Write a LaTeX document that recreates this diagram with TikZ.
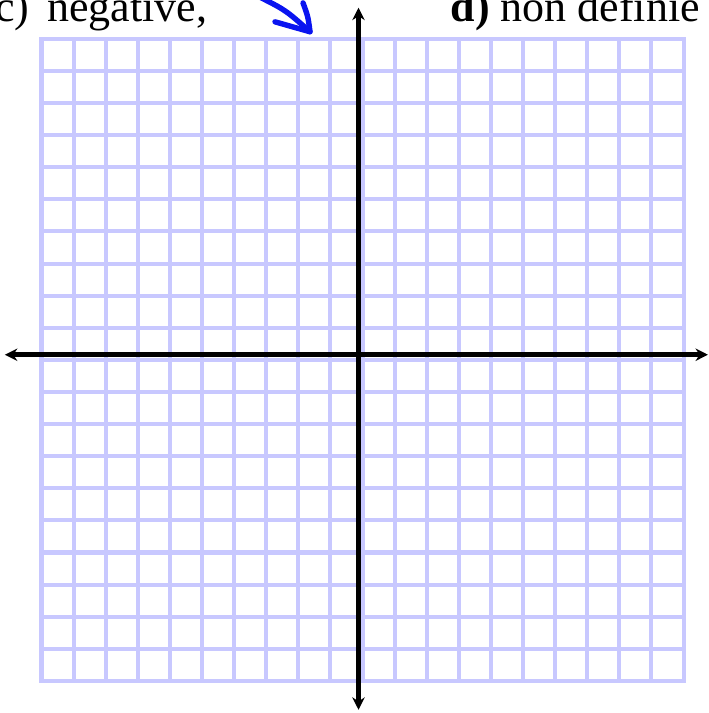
\documentclass[tikz,border=0pt]{standalone}
\usepackage{fontspec}
\setmainfont{Liberation Serif}
\definecolor{gridblue}{HTML}{C8C8FF}
\definecolor{penblue}{HTML}{0A14F0}
\usetikzlibrary{arrows.meta}

\begin{document}
\begin{tikzpicture}[x=0.5cm, y=0.5cm,
		gridline/.style={draw=gridblue, line width=1.8pt},
		axis/.style={{Stealth[length=5.5pt,width=5.5pt]}-{Stealth[length=5.5pt,width=5.5pt]}, line width=2pt, black},
		pen/.style={draw=penblue, line width=2.4pt, line cap=round, line join=round},
		lbl/.style={anchor=base west, inner sep=0pt, font=\fontsize{19.5}{23}\selectfont}
	]
	\clip (-1.293,-1.0) rectangle (20.79,21.21);

	% grid
	\draw[gridline, step=1] (0,0) grid (20,20);
	\draw[gridline] (0,0) rectangle (20,20);

	% axes
	\coordinate (xl) at (-1.14,10.16);
	\coordinate (xr) at (20.76,10.16);
	\coordinate (yb) at (9.875,-0.9);
	\coordinate (yt) at (9.875,20.97);
	\draw[axis] (xl) -- (xr);
	\draw[axis] (yb) -- (yt);

	% question labels
	\node[lbl] (qc) at (-1.45,20.53) {c)};
	\node[lbl] (negat) at (0.17,20.53) {négative,};
	\node[lbl] (qd) at (12.73,20.53) {\textbf{d)} non définie};

	% hand drawn arrow
	\coordinate (tip) at (8.364,20.22);
	\draw[pen] (6.7,21.35) .. controls (7.6,20.9) .. (tip);
	\draw[pen] (8.146,21.12) .. controls (8.3,20.7) .. (tip) -- (7.274,20.53);
\end{tikzpicture}
\end{document}
